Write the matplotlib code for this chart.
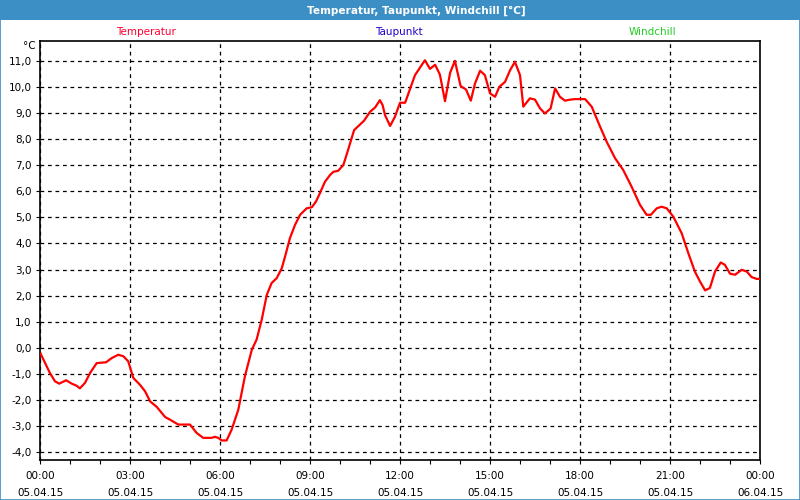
import numpy as np
import matplotlib.pyplot as plt
from matplotlib.patches import Rectangle
from matplotlib.ticker import MultipleLocator, FixedLocator

# time in hours since 05.04.15 00:00, temperature in °C
hours = [0.02, 0.33, 0.5, 0.64, 0.87, 1.06, 1.22, 1.33, 1.5, 1.67, 1.89, 2.2, 2.39,
         2.61, 2.78, 2.94, 3.11, 3.33, 3.5, 3.67, 3.89, 4.17, 4.33, 4.61, 5.0,
         5.22, 5.44, 5.72, 5.83, 5.94, 6.06, 6.22, 6.39, 6.61, 6.83, 7.06, 7.22,
         7.39, 7.56, 7.72, 7.89, 8.06, 8.2, 8.33, 8.5, 8.67, 8.89, 9.06, 9.2,
         9.33, 9.5, 9.67, 9.78, 9.94, 10.11, 10.2, 10.47, 10.8, 11.0, 11.17,
         11.33, 11.42, 11.5, 11.67, 11.83, 12.0, 12.17, 12.5, 12.83, 13.0,
         13.17, 13.33, 13.5, 13.67, 13.83, 14.02, 14.2, 14.36, 14.5, 14.67,
         14.83, 15.0, 15.17, 15.31, 15.5, 15.67, 15.83, 16.0, 16.11, 16.33,
         16.5, 16.67, 16.83, 17.02, 17.17, 17.33, 17.5, 17.67, 17.83, 18.17,
         18.39, 18.67, 18.89, 19.17, 19.44, 19.72, 20.0, 20.22, 20.36, 20.56,
         20.72, 20.89, 21.11, 21.39, 21.61, 21.83, 22.0, 22.17, 22.33, 22.5,
         22.69, 22.83, 23.0, 23.17, 23.39, 23.56, 23.72, 23.89, 24.0]
temp = [-0.23, -0.97, -1.29, -1.38, -1.25, -1.38, -1.46, -1.56, -1.35, -0.97,
        -0.59, -0.56, -0.40, -0.27, -0.33, -0.52, -1.16, -1.42, -1.67, -2.06,
        -2.27, -2.66, -2.76, -2.95, -2.95, -3.27, -3.46, -3.46, -3.42, -3.46,
        -3.56, -3.56, -3.14, -2.38, -1.10, -0.08, 0.31, 1.07, 2.03, 2.48,
        2.67, 3.05, 3.63, 4.20, 4.71, 5.10, 5.35, 5.39, 5.61, 5.93, 6.37,
        6.63, 6.75, 6.79, 7.01, 7.33, 8.35, 8.71, 9.05, 9.22, 9.50, 9.31,
        8.93, 8.51, 8.86, 9.40, 9.40, 10.46, 11.03, 10.70, 10.86, 10.48, 9.46,
        10.55, 11.01, 10.04, 9.91, 9.48, 10.14, 10.63, 10.46, 9.76, 9.63,
        10.01, 10.20, 10.65, 10.97, 10.46, 9.25, 9.57, 9.52, 9.18, 8.99,
        9.18, 9.95, 9.63, 9.48, 9.52, 9.54, 9.54, 9.25, 8.48, 7.90, 7.27,
        6.82, 6.18, 5.48, 5.10, 5.10, 5.35, 5.41, 5.35, 5.03, 4.39, 3.63,
        2.92, 2.54, 2.20, 2.29, 2.92, 3.27, 3.18, 2.84, 2.80, 2.99, 2.92,
        2.71, 2.64, 2.64]

xticks = [0, 3, 6, 9, 12, 15, 18, 21, 24]
xlabels = ['00:00\n05.04.15', '03:00\n05.04.15', '06:00\n05.04.15',
           '09:00\n05.04.15', '12:00\n05.04.15', '15:00\n05.04.15',
           '18:00\n05.04.15', '21:00\n05.04.15', '00:00\n06.04.15']
yticks = list(range(-4, 12))
legend_names = ['Temperatur', 'Taupunkt', 'Windchill']
legend_colors = ['#ff0033', '#2200cc', '#22cc22']

fig = plt.figure(figsize=(8, 5), dpi=100)
fig.patch.set_facecolor('white')

# title bar and outer frame
fig.patches.append(Rectangle((0, 0.96), 1, 0.04, transform=fig.transFigure,
                             facecolor='#3c8fc4', edgecolor='none', zorder=0))
fig.patches.append(Rectangle((0.0006, 0.001), 0.9988, 0.998, transform=fig.transFigure,
                             facecolor='none', edgecolor='#3c8fc4', lw=1.2, zorder=0))
fig.text(0.52, 0.979, 'Temperatur, Taupunkt, Windchill [°C]', color='white',
         fontsize=7.6, fontweight='bold', ha='center', va='center')

ax = fig.add_axes([0.05, 0.08, 0.9, 0.838])
ax.plot(hours, temp, color='#ff0000', lw=1.6, zorder=3)

ax.set_xlim(0, 24)
ax.set_ylim(-4.31, 11.77)
ax.set_xticks(xticks)
ax.set_xticklabels(xlabels, fontsize=7.5, linespacing=1.9)
ax.xaxis.set_minor_locator(MultipleLocator(1))
ax.set_yticks(yticks)
ax.yaxis.set_major_formatter(plt.FuncFormatter(lambda v, p: ('%.1f' % v).replace('.', ',')))
ax.tick_params(axis='y', labelsize=7.5)
ax.tick_params(axis='x', which='both', length=3, width=0.8, pad=5)
ax.tick_params(axis='y', length=3, width=0.8, pad=3)
ax.grid(True, color='black', linestyle=(0, (3, 3)), lw=0.9)
for s in ax.spines.values():
    s.set_linewidth(1.2)

# legend names above the plot
for name, col, xc in zip(legend_names, legend_colors, [0.183, 0.499, 0.815]):
    fig.text(xc, 0.936, name, color=col, fontsize=7.5, ha='center', va='center')
fig.text(0.045, 0.908, '°C', fontsize=7.5, ha='right', va='center')

fig.savefig('out.png', dpi=100)
